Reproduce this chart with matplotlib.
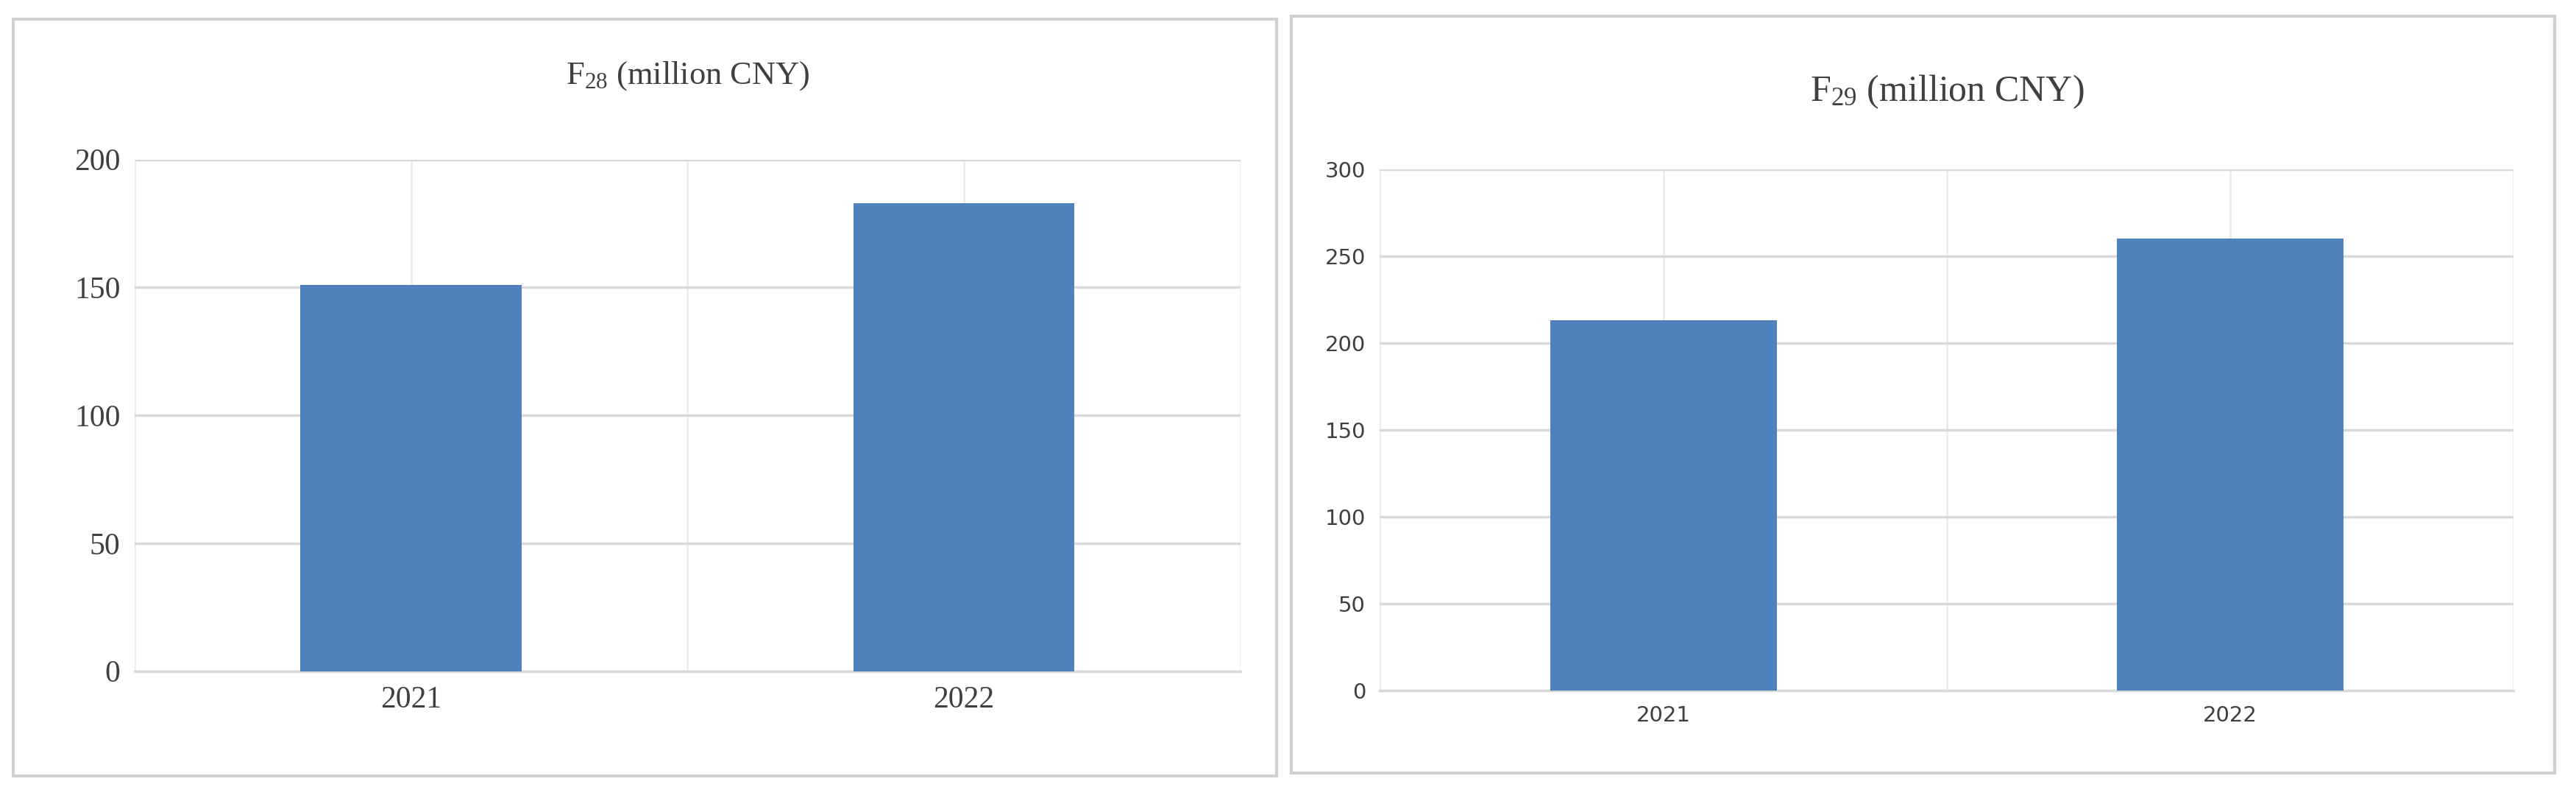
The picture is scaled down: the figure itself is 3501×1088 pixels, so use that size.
import matplotlib.pyplot as plt
from matplotlib.patches import Rectangle

years = ["2021", "2022"]
f28 = [151, 183]
f29 = [213, 260]

bar_color = "#4f81bd"
grid_color = "#d9d9d9"

fig = plt.figure(figsize=(35.01, 10.88), dpi=100)

# panel borders
for x0, y0 in [(0.005, 0.031), (0.5013, 0.035)]:
    fig.patches.append(Rectangle((x0, y0), 0.4905, 0.945, transform=fig.transFigure,
                                 fill=False, edgecolor="#d0d0d0", linewidth=3))


def draw(rect, vals, ymax, step, title, ty, tick_font, tick_size, title_size):
    ax = fig.add_axes(rect)
    ax.bar(range(len(years)), vals, width=0.4, color=bar_color, zorder=3)
    ax.set_xlim(-0.5, len(years) - 0.5)
    ax.set_ylim(0, ymax)
    ax.set_yticks(range(0, ymax + 1, step))
    ax.set_xticks(range(len(years)))
    ax.set_xticklabels(years)
    ax.grid(axis="y", color=grid_color, linewidth=2.5, zorder=0)
    for x in [-0.5, 0, 0.5, 1, 1.5]:
        ax.axvline(x, color="#ececec", linewidth=2, zorder=0)
    for s in ["top", "right", "left"]:
        ax.spines[s].set_visible(False)
    ax.spines["bottom"].set_color(grid_color)
    ax.spines["bottom"].set_linewidth(2.5)
    ax.tick_params(length=0, pad=14, labelcolor="#404040")
    for lab in ax.get_xticklabels() + ax.get_yticklabels():
        lab.set_family(tick_font)
        lab.set_fontsize(tick_size)
    fig.text(rect[0] + rect[2] / 2, ty, title, ha="center", va="center",
             family="Liberation Serif", fontsize=title_size, color="#404040")


plt.rcParams["mathtext.fontset"] = "custom"
plt.rcParams["mathtext.rm"] = "Liberation Serif"

draw([0.0523, 0.162, 0.4292, 0.639], f28, 200, 50, r"$\mathregular{F_{28}}$ (million CNY)",
     0.905, "Liberation Serif", 30, 32)
draw([0.5357, 0.1376, 0.4401, 0.651], f29, 300, 50, r"$\mathregular{F_{29}}$ (million CNY)",
     0.885, "DejaVu Sans", 21, 36)

fig.savefig("out.png", dpi=100)
